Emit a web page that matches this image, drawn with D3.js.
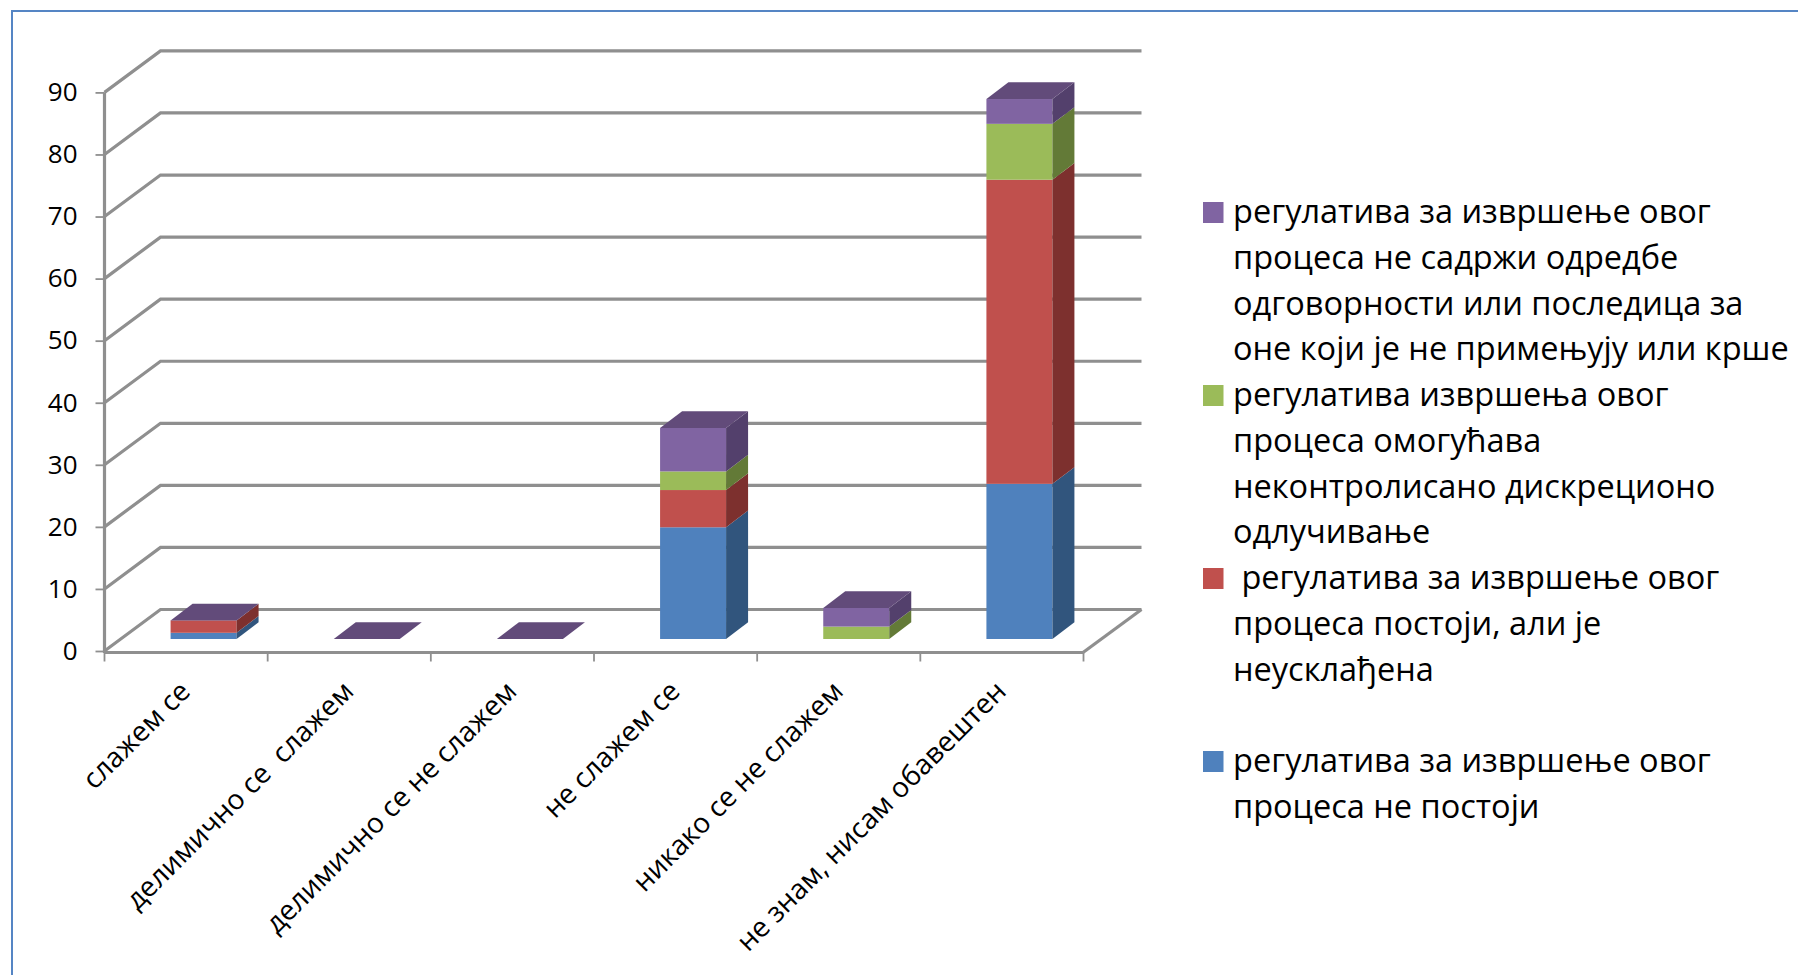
<!DOCTYPE html>
<html><head><meta charset="utf-8">
<script src="https://cdn.jsdelivr.net/npm/d3@7/dist/d3.min.js"></script>
<style>html,body{margin:0;padding:0;background:#fff;overflow:hidden}svg{display:block}text{font-family:"Open Sans",sans-serif;fill:#000}</style>
</head><body><svg id="c" width="1798" height="975"></svg>
<script>
const categories = ["слажем се","делимично се  слажем","делимично се не слажем","не слажем се","никако се не слажем","не знам, нисам обавештен"];
const seriesNone = [1,0,0,18,0,25];
const seriesInconsistent = [2,0,0,6,0,49];
const seriesDiscretion = [0,0,0,3,2,9];
const seriesNoLiability = [0,0,0,7,3,4];
const yTicks = [0,10,20,30,40,50,60,70,80,90];
const legendNone = ["регулатива за извршење овог","процеса не постоји"];
const legendInconsistent = ["\u00A0регулатива за извршење овог","процеса постоји, али је","неусклађена",""];
const legendDiscretion = ["регулатива извршења овог","процеса омогућава","неконтролисано дискреционо","одлучивање"];
const legendNoLiability = ["регулатива за извршење овог","процеса не садржи одредбе","одговорности или последица за","оне који је не примењују или крше"];

const series = [
 {values:seriesNone,front:"#4f81bd",side:"#31557d",legend:legendNone},
 {values:seriesInconsistent,front:"#c0504d",side:"#7d302e",legend:legendInconsistent},
 {values:seriesDiscretion,front:"#9bbb59",side:"#637a37",legend:legendDiscretion},
 {values:seriesNoLiability,front:"#8064a2",side:"#53406c",legend:legendNoLiability}
];
const topColor="#624b7a", gridColor="#8f8f8f";
const svg=d3.select("#c");
svg.append("path").attr("d","M1798,11H12V975").attr("fill","none").attr("stroke","#5585c4").attr("stroke-width",2);

const x=d3.scaleBand().domain(categories).range([104,1083]).paddingInner(0).paddingOuter(0);
const y=d3.scaleLinear().domain([0,90]).range([651,92.4]);
const depth={dx:56,dy:-41.5}, barDepth={dx:22,dy:-16.7}, barShift={dx:18,dy:-12};
const barW=66;

// walls
const g=svg.append("g").attr("fill","none").attr("stroke",gridColor).attr("stroke-width",3.2);
g.selectAll("path.grid").data(yTicks).join("path").attr("class","grid")
 .attr("d",t=>{const p=d3.path();p.moveTo(104.5,y(t));p.lineTo(104.5+depth.dx,y(t)+depth.dy);p.lineTo(1141.5,y(t)+depth.dy);return p.toString();});
g.append("path").attr("d",(()=>{const p=d3.path();p.moveTo(1083,652.5);p.lineTo(1141.5,y(0)+depth.dy);return p.toString();})());

// axes
const yAxis=d3.axisLeft(y).tickValues(yTicks).tickSize(9).tickPadding(18);
const ya=svg.append("g").attr("transform","translate(104.5,0)").call(yAxis);
ya.selectAll("line").attr("stroke",gridColor).attr("stroke-width",1.8);
ya.select(".domain").attr("stroke",gridColor).attr("stroke-width",3.2).attr("d",`M0,${y(90)}V${y(0)+2}`);
ya.selectAll("text").attr("font-size",26).attr("font-family",'"Open Sans",sans-serif').attr("fill","#000");

const xAxisScale=d3.scaleLinear().domain([0,6]).range([104,1083]);
const xa=svg.append("g").attr("transform","translate(0,652.5)").call(d3.axisBottom(xAxisScale).tickValues(d3.range(7)).tickSize(9).tickFormat(""));
xa.selectAll("line").attr("stroke",gridColor).attr("stroke-width",1.8);
xa.select(".domain").attr("stroke",gridColor).attr("stroke-width",3.2).attr("d","M104,0H1083");

// stacked bars
const stack=[];
categories.forEach((c,i)=>{let acc=0;series.forEach((s,k)=>{const v=s.values[i];stack.push({c,i,k,s,y0:acc,y1:acc+v});acc+=v;});});
const bars=svg.append("g");
const barX=c=>x(c)+(x.bandwidth()-barW)/2+barShift.dx;
const pts=a=>a.map(p=>p.join(",")).join(" ");
stack.filter(d=>d.y1>d.y0).forEach(d=>{
  const x0=barX(d.c),x1=x0+barW,t=y(d.y1)+barShift.dy,b=y(d.y0)+barShift.dy;
  bars.append("rect").attr("x",x0).attr("y",t).attr("width",barW).attr("height",b-t).attr("fill",d.s.front);
  bars.append("polygon").attr("points",pts([[x1,t],[x1+barDepth.dx,t+barDepth.dy],[x1+barDepth.dx,b+barDepth.dy],[x1,b]])).attr("fill",d.s.side);
});
// top faces
categories.forEach(c=>{
  const total=d3.sum(series,s=>s.values[categories.indexOf(c)]);
  const x0=barX(c),x1=x0+barW,t=y(total)+barShift.dy;
  bars.append("polygon").attr("points",pts([[x0,t],[x1,t],[x1+barDepth.dx,t+barDepth.dy],[x0+barDepth.dx,t+barDepth.dy]])).attr("fill",topColor);
});

// category labels
svg.append("g").selectAll("text").data(categories).join("text")
 .attr("text-anchor","end").attr("font-size",28).attr("xml:space","preserve").style("white-space","pre")
 .attr("transform",(c,i)=>`translate(${xAxisScale(i)+88},${693}) rotate(-45)`)
 .text(c=>c);

// legend
const lh=45.75, lx=1233, sx=1203, sw=20.5, sh=21;
let line=0;
const lg=svg.append("g");
[...series].reverse().forEach(s=>{
  const top=202+line*lh;
  lg.append("rect").attr("x",sx).attr("y",top).attr("width",sw).attr("height",sh).attr("fill",s.front);
  s.legend.forEach((t,j)=>{
    lg.append("text").attr("x",lx).attr("y",223+(line+j)*lh).attr("font-size",32.5).text(t);
  });
  line+=s.legend.length;
});
</script></body></html>
